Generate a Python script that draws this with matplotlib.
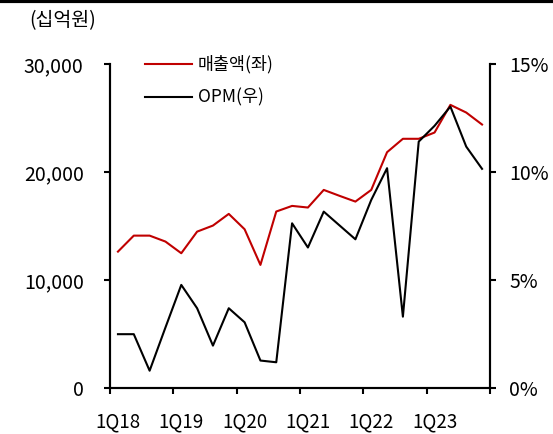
import matplotlib
matplotlib.use('Agg')
import matplotlib.pyplot as plt
import numpy as np

plt.rcParams['font.family'] = ['Noto Sans CJK KR', 'DejaVu Sans']

quarters = ['1Q18', '2Q18', '3Q18', '4Q18', '1Q19', '2Q19', '3Q19', '4Q19',
            '1Q20', '2Q20', '3Q20', '4Q20', '1Q21', '2Q21', '3Q21', '4Q21',
            '1Q22', '2Q22', '3Q22', '4Q22', '1Q23', '2Q23', '3Q23', '4Q23']
sales = [12620, 14100, 14100, 13550, 12470, 14470, 15030, 16110,
         14690, 11390, 16330, 16850, 16700, 18330, 17780, 17250,
         18330, 21820, 23060, 23060, 23640, 26200, 25490, 24380]
opm = [2.49, 2.49, 0.80, 2.80, 4.77, 3.69, 1.96, 3.69,
       3.04, 1.27, 1.19, 7.62, 6.50, 8.16, 7.52, 6.88,
       8.70, 10.17, 3.30, 11.40, 12.13, 13.02, 11.17, 10.14]
label_idx = [0, 4, 8, 12, 16, 20]

fig = plt.figure(figsize=(5.53, 4.34), dpi=100)
ax = fig.add_axes([0.199, 0.106, 0.687, 0.747])
ax2 = ax.twinx()

x = np.arange(len(quarters)) + 0.5
l1, = ax.plot(x, sales, color='#C00000', lw=1.5, label='매출액(좌)')
l2, = ax2.plot(x, opm, color='black', lw=1.5, label='OPM(우)')

ax.set_xlim(0, 24)
ax.set_ylim(0, 30000)
ax2.set_ylim(0, 15)
ax.set_yticks([0, 10000, 20000, 30000])
ax.set_yticklabels([f'{v:,}' for v in [0, 10000, 20000, 30000]])
ax2.set_yticks([0, 5, 10, 15])
ax2.set_yticklabels([f'{v}%' for v in [0, 5, 10, 15]])

ax.set_xticks(np.arange(0, 25, 4))
ax.set_xticklabels([])
ax.set_xticks(x[label_idx], minor=True)
ax.set_xticklabels([quarters[i] for i in label_idx], minor=True)
ax.tick_params(axis='x', which='minor', length=0, pad=17, labelsize=13.5)
ax.tick_params(axis='x', which='major', length=4, width=1.5, direction='out')
ax.tick_params(axis='y', length=4, width=1.5, direction='out', labelsize=14, pad=15)
ax2.tick_params(axis='y', length=4, width=1.5, direction='out', labelsize=14, pad=10)

for a in (ax, ax2):
    a.spines['top'].set_visible(False)
    for s in ('left', 'right', 'bottom'):
        a.spines[s].set_linewidth(1.5)

ax.legend(handles=[l1, l2], loc='upper left', bbox_to_anchor=(0.05, 1.075),
          frameon=False, fontsize=12.5, handlelength=2.7, handletextpad=0.35,
          labelspacing=0.85)

fig.text(0.053, 0.953, '(십억원)', fontsize=14, ha='left', va='center')
fig.add_artist(plt.Line2D([0, 1], [0.997, 0.997], color='black', lw=3,
                          transform=fig.transFigure))

fig.savefig('out.png', dpi=100)
